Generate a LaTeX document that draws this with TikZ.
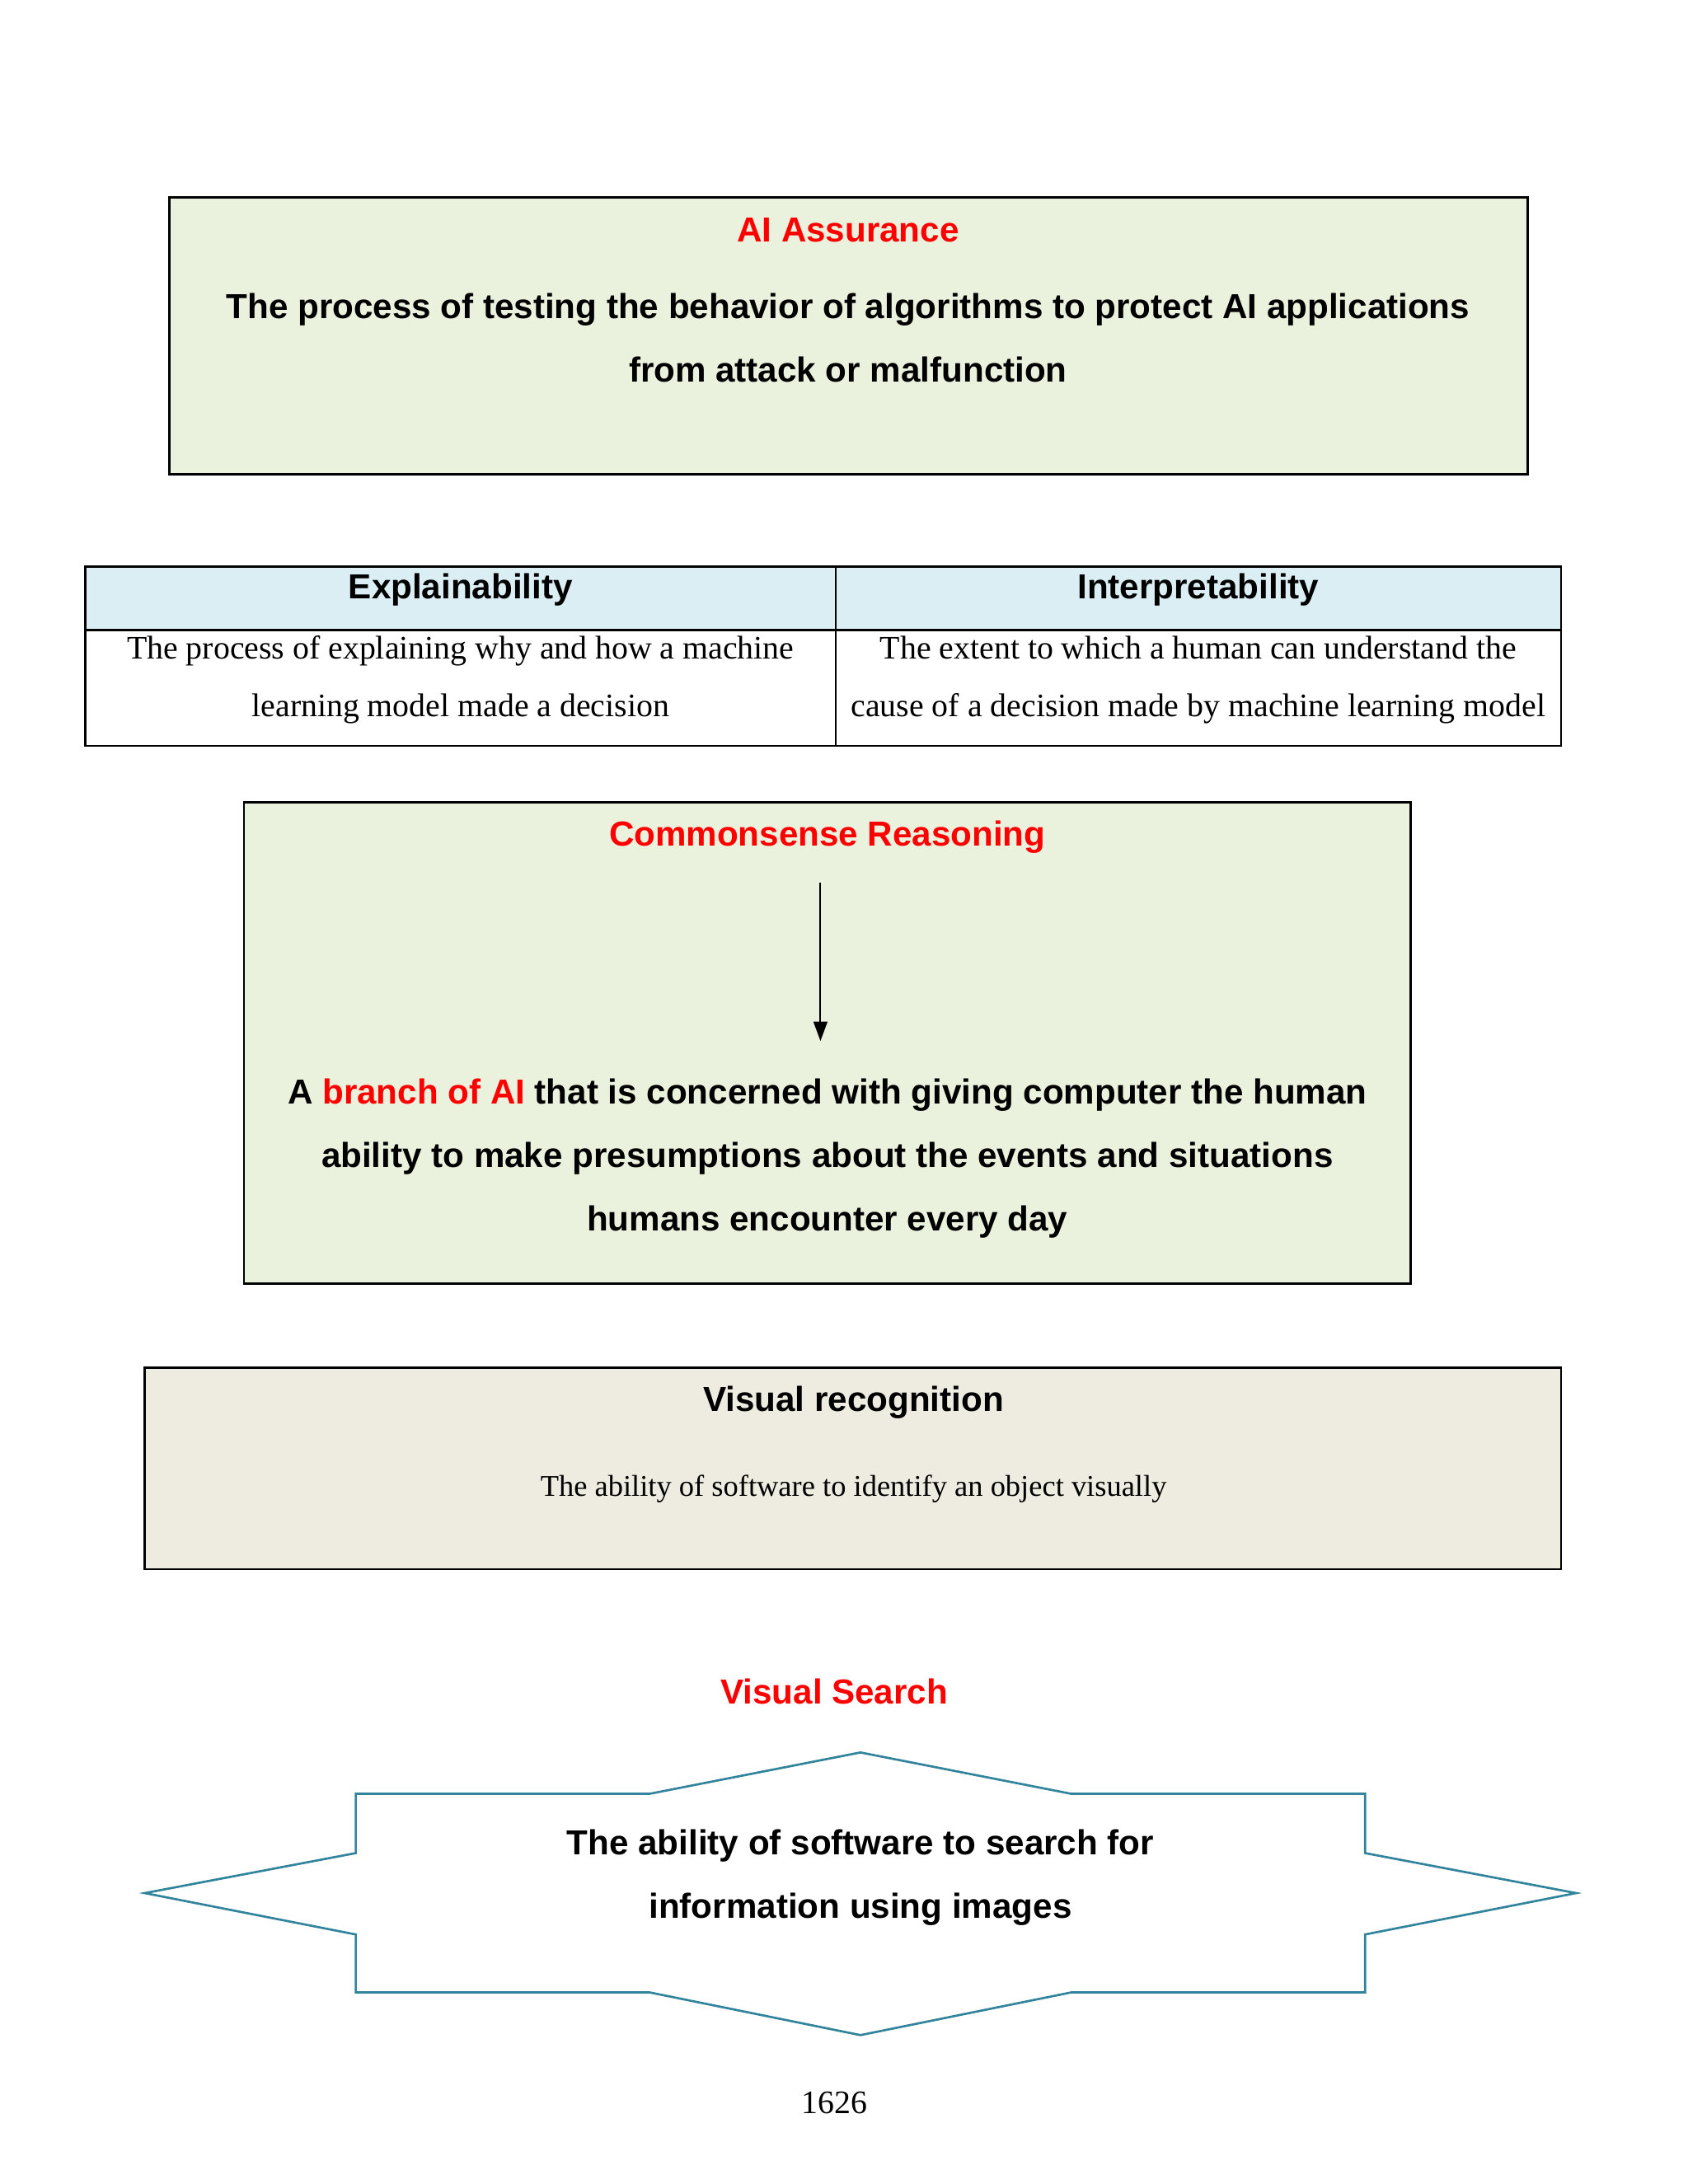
\documentclass[tikz,border=0pt]{standalone}
\usepackage{fontspec}
\setmainfont{Liberation Serif}
\setsansfont{Liberation Sans}
\usetikzlibrary{arrows.meta}
\definecolor{boxgreen}{HTML}{EAF1DD}
\definecolor{headblue}{HTML}{DAEEF3}
\definecolor{boxtan}{HTML}{EEECE1}
\definecolor{starteal}{HTML}{31849B}
\definecolor{titlered}{HTML}{FF0000}
\begin{document}
\begin{tikzpicture}[x=0.5pt,y=-0.5pt,
    heading/.style={font=\sffamily\bfseries\fontsize{12.6}{14}\selectfont},
    redhead/.style={heading,text=titlered},
    boldtext/.style={font=\sffamily\bfseries\fontsize{12.6}{23}\selectfont,align=center},
    plaintext/.style={font=\fontsize{11.9}{21}\selectfont,align=center},
    frame/.style={draw=black,line width=0.8pt}]
    \useasboundingbox (0,0) rectangle (1224,1584);
%    \draw (0,0) to[grid with coordinates] (1224,1584);

    % frames
    \draw[frame,fill=boxgreen] (123,143) rectangle (1108,344);
    \draw[frame,fill=headblue] (62,411) rectangle (1132,457);
    \draw[frame] (62,457) rectangle (1132,541);
    \draw[frame] (606,411) -- (606,541);
    \draw[frame,fill=boxgreen] (177,582) rectangle (1023,931);
    \draw[frame,fill=boxtan]   (105,992) rectangle (1132,1138);
    \draw[starteal,line width=0.8pt,fill=white] (105,1373) -- (258,1344) -- (258,1301)
        -- (471,1301) -- (624,1271) -- (777,1301) -- (990,1301) -- (990,1344)
        -- (1143,1373) -- (990,1403) -- (990,1445) -- (777,1445) -- (624,1476)
        -- (471,1445) -- (258,1445) -- (258,1403) -- cycle;

    \node[redhead](assure)    at (615,167) {AI Assurance};
    \node[boldtext](assuredef) at (615,245) {The process of testing the behavior of algorithms to protect AI applications\\from attack or malfunction};

    \node[heading](explain)   at (334,428) {Explainability};
    \node[heading](interpret) at (869,428) {Interpretability};
    \node[plaintext](explaindef)   at (334,493) {The process of explaining why and how a machine\\learning model made a decision};
    \node[plaintext](interpretdef) at (869,493) {The extent to which a human can understand the\\cause of a decision made by machine learning model};

    \node[redhead](common)    at (600,607) {Commonsense Reasoning};
    \coordinate (commonfrom) at (595,640);
    \coordinate (commonto)   at (595,755);
    \node[boldtext](commondef) at (600,840) {A \textcolor{titlered}{branch of AI} that is concerned with giving computer the human\\ability to make presumptions about the events and situations\\humans encounter every day};

    \node[heading](visrec)    at (619,1017) {Visual recognition};
    \node[plaintext,font=\fontsize{10.9}{13}\selectfont](visrecdef) at (619,1080) {The ability of software to identify an object visually};

    \node[redhead](vissearch) at (605,1227) {Visual Search};
    \node[boldtext](vissearchdef) at (624,1362) {The ability of software to search for\\information using images};

    \node[plaintext](pagenum) at (605,1525) {1626};

    \draw[-{Triangle[length=7pt,width=5pt]},line width=0.6pt] (commonfrom) to (commonto);
\end{tikzpicture}
\end{document}
